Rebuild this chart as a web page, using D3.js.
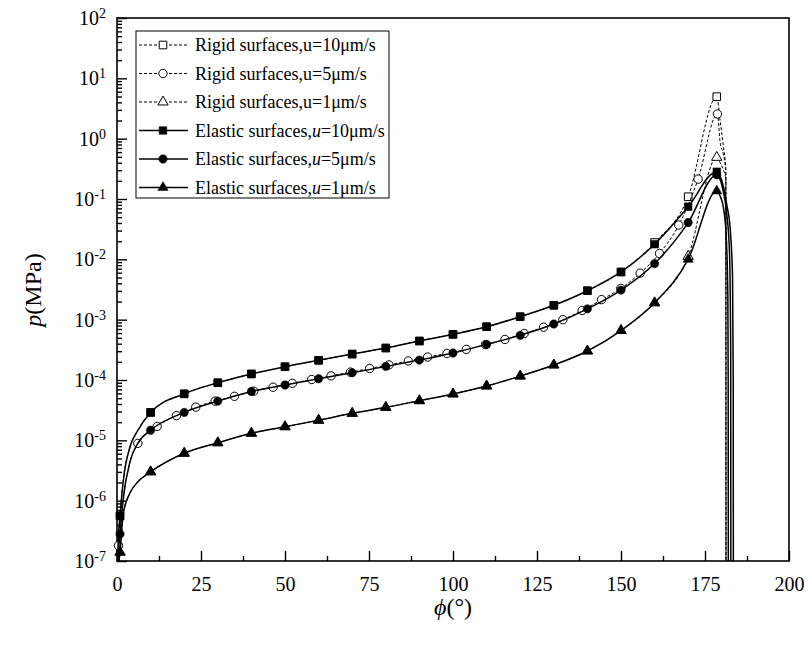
<!DOCTYPE html>
<meta charset="utf-8">
<html>
  <head>
    <title>p vs phi</title>
    <style>
      body { margin: 0; background: #fff; }
      svg { font-family: "Liberation Serif", "Times New Roman", serif; }
      .frame { fill: none; stroke: #000; stroke-width: 1.6px; }
      .axis path { display: none; }
      .axis line { stroke: #000; stroke-width: 1.4px; }
      .solid { fill: none; stroke: #000; stroke-width: 1.5px; }
      .dashed { fill: none; stroke: #000; stroke-width: 1px; stroke-dasharray: 3,2; }
      .legend text { font-size: 18px; }
    </style>
  </head>
  <body>
    <script src="https://cdn.jsdelivr.net/npm/d3@7"></script>
    <script>

      // marker positions, elastic curves (and rigid u=10, u=1)
      var phiElastic = [0.9, 10, 20, 30, 40, 50, 60, 70, 80, 90, 100, 110, 120, 130, 140, 150, 160, 170, 178.5];
      var pElastic10 = [5.6e-7, 2.9e-5, 5.9e-5, 9.0e-5, 1.26e-4, 1.66e-4, 2.12e-4, 2.69e-4, 3.39e-4, 4.43e-4, 5.71e-4, 7.64e-4, 1.12e-3, 1.73e-3, 3.02e-3, 6.17e-3, 1.78e-2, 7.45e-2, 0.283];
      var pElastic5  = [2.8e-7, 1.47e-5, 2.9e-5, 4.47e-5, 6.46e-5, 8.26e-5, 1.05e-4, 1.32e-4, 1.68e-4, 2.14e-4, 2.8e-4, 3.89e-4, 5.5e-4, 8.47e-4, 1.51e-3, 3.09e-3, 8.5e-3, 4.07e-2, 0.251];
      var pElastic1  = [1.4e-7, 3.0e-6, 6.1e-6, 9.1e-6, 1.31e-5, 1.68e-5, 2.15e-5, 2.8e-5, 3.52e-5, 4.54e-5, 5.86e-5, 7.94e-5, 1.16e-4, 1.77e-4, 3.02e-4, 6.6e-4, 1.9e-3, 1.0e-2, 0.136];
      var pRigid10   = [5.6e-7, 2.9e-5, 5.9e-5, 9.0e-5, 1.26e-4, 1.66e-4, 2.12e-4, 2.69e-4, 3.39e-4, 4.43e-4, 5.71e-4, 7.64e-4, 1.12e-3, 1.73e-3, 3.02e-3, 6.17e-3, 1.9e-2, 0.109, 4.97];
      var pRigid1    = [1.4e-7, 3.0e-6, 6.1e-6, 9.1e-6, 1.31e-5, 1.68e-5, 2.15e-5, 2.8e-5, 3.52e-5, 4.54e-5, 5.86e-5, 7.94e-5, 1.16e-4, 1.77e-4, 3.02e-4, 6.6e-4, 1.9e-3, 1.12e-2, 0.49];

      // rigid u=5 has its own, denser marker spacing
      var phiRigid5 = [0.45, 6.2, 11.95, 17.7, 23.45, 29.2, 34.95, 40.7, 46.45, 52.2, 57.95, 63.7, 69.45, 75.2, 80.95, 86.7,
                       92.45, 98.2, 103.95, 109.7, 115.45, 121.2, 126.95, 132.7, 138.45, 144.2, 149.95, 155.7, 161.45, 167.2, 172.95, 178.7];
      var pRigid5   = [1.8e-7, 8.9e-6, 1.7e-5, 2.57e-5, 3.55e-5, 4.47e-5, 5.37e-5, 6.53e-5, 7.59e-5, 8.81e-5, 1.02e-4, 1.17e-4, 1.35e-4, 1.55e-4, 1.78e-4, 2.07e-4,
                       2.4e-4, 2.75e-4, 3.22e-4, 3.86e-4, 4.7e-4, 5.9e-4, 7.5e-4, 1.0e-3, 1.42e-3, 2.15e-3, 3.3e-3, 5.9e-3, 1.25e-2, 3.7e-2, 0.214, 2.57];

      // extra points read off the curves near phi=0 and past the peak (no markers there)
      var edgeElastic10 = [[0, 3e-8], [0.3, 1.6e-7], [1.9, 2.2e-6], [3.9, 7.9e-6], [6, 1.4e-5], [179.5, 0.24], [180.5, 0.158], [181.5, 0.079], [182.5, 0.032], [183.2, 5e-3], [183.4, 1e-4], [183.45, 1e-8]];
      var edgeElastic5  = [[0, 2e-8], [0.3, 1e-7], [1.9, 1.12e-6], [3.9, 4.47e-6], [6.2, 8.9e-6], [179.5, 0.21], [180.5, 0.13], [181.5, 0.056], [182.3, 0.0126], [182.65, 3e-4], [182.7, 1e-8]];
      var edgeElastic1  = [[0, 1e-8], [0.3, 6e-8], [1.9, 6.3e-7], [3.9, 1.35e-6], [6, 2e-6], [179.5, 0.112], [180.5, 0.071], [181.3, 0.025], [181.8, 2.5e-3], [181.9, 1e-4], [181.95, 1e-8]];
      var edgeRigid10   = [[0, 3e-8], [0.3, 1.6e-7], [1.9, 2.2e-6], [3.9, 7.9e-6], [6, 1.4e-5], [179.5, 2.0], [180.5, 0.71], [181.2, 0.3], [181.25, 1e-8]];
      var edgeRigid5    = [[0, 2e-8], [0.2, 8e-8], [1.9, 1.12e-6], [3.9, 4.47e-6], [179.5, 0.87], [180.5, 0.54], [181.2, 0.28], [181.25, 1e-8]];
      var edgeRigid1    = [[0, 1e-8], [0.3, 6e-8], [1.9, 6.3e-7], [3.9, 1.35e-6], [6, 2e-6], [179.5, 0.4], [180.5, 0.3], [181.2, 0.22], [181.25, 1e-8]];

      var xTicks = [0, 25, 50, 75, 100, 125, 150, 175, 200];
      var xMinor = [12.5, 37.5, 62.5, 87.5, 112.5, 137.5, 162.5, 187.5];
      var yTicks = [1e-7, 1e-6, 1e-5, 1e-4, 1e-3, 1e-2, 1e-1, 1e0, 1e1, 1e2];

      var series = [
        {name: "Rigid surfaces,", speed: "10", italic: false, phi: phiElastic, p: pRigid10, edge: edgeRigid10, sym: d3.symbolSquare, open: true},
        {name: "Rigid surfaces,", speed: "5", italic: false, phi: phiRigid5, p: pRigid5, edge: edgeRigid5, sym: d3.symbolCircle, open: true},
        {name: "Rigid surfaces,", speed: "1", italic: false, phi: phiElastic, p: pRigid1, edge: edgeRigid1, sym: d3.symbolTriangle, open: true},
        {name: "Elastic surfaces,", speed: "10", italic: true, phi: phiElastic, p: pElastic10, edge: edgeElastic10, sym: d3.symbolSquare, open: false},
        {name: "Elastic surfaces,", speed: "5", italic: true, phi: phiElastic, p: pElastic5, edge: edgeElastic5, sym: d3.symbolCircle, open: false},
        {name: "Elastic surfaces,", speed: "1", italic: true, phi: phiElastic, p: pElastic1, edge: edgeElastic1, sym: d3.symbolTriangle, open: false}
      ];

      var symSize = new Map([[d3.symbolSquare, 58], [d3.symbolCircle, 55], [d3.symbolTriangle, 46]]);

      var W = 810, H = 645;
      var mLeft = 117, mRight = 789, mTop = 18, mBottom = 561;
      var serif = "'Liberation Serif', 'Times New Roman', serif";

      var x = d3.scaleLinear().domain([0, 200]).range([mLeft, mRight]);
      var y = d3.scaleLog().domain([1e-7, 1e2]).range([mBottom, mTop]);

      var svg = d3.select("body").append("svg")
          .attr("width", W)
          .attr("height", H);

      svg.append("clipPath").attr("id", "plot")
        .append("rect")
          .attr("x", mLeft).attr("y", mTop)
          .attr("width", mRight - mLeft).attr("height", mBottom - mTop);

      // axes, ticks inward
      svg.append("g")
          .attr("class", "axis")
          .attr("transform", "translate(0," + mBottom + ")")
          .call(d3.axisBottom(x).tickValues(xTicks).tickSize(-10).tickPadding(16));

      svg.append("g")
          .attr("class", "axis")
          .attr("transform", "translate(0," + mBottom + ")")
          .call(d3.axisBottom(x).tickValues(xMinor).tickSize(-5).tickFormat(""));

      var yAxis = svg.append("g")
          .attr("class", "axis")
          .attr("transform", "translate(" + mLeft + ",0)")
          .call(d3.axisLeft(y).tickValues(yTicks).tickSize(-10).tickPadding(11));

      yAxis.selectAll(".tick text").each(function(d) {
        var t = d3.select(this).text(null);
        t.append("tspan").text("10");
        t.append("tspan")
            .attr("dy", "-0.5em")
            .style("font-size", "14px")
            .text(Math.round(Math.log10(d)));
      });

      var yMinor = y.ticks().filter(function(v) { return yTicks.indexOf(v) < 0; });
      svg.append("g")
          .attr("class", "axis")
          .attr("transform", "translate(" + mLeft + ",0)")
          .call(d3.axisLeft(y).tickValues(yMinor).tickSize(-5).tickFormat(""));

      svg.selectAll(".axis")
          .attr("font-family", null)
          .attr("font-size", null);
      svg.selectAll(".axis text")
          .style("font-family", serif)
          .style("font-size", "20px")
          .attr("fill", "#000");

      svg.append("rect")
          .attr("class", "frame")
          .attr("x", mLeft).attr("y", mTop)
          .attr("width", mRight - mLeft).attr("height", mBottom - mTop);

      // curves
      var line = d3.line()
          .x(function(d) { return x(d[0]); })
          .y(function(d) { return y(d[1]); })
          .curve(d3.curveMonotoneX);

      var plot = svg.append("g");

      series.forEach(function(s) {
        var marks = s.phi.map(function(v, i) { return [v, s.p[i]]; });
        var pts = marks.concat(s.edge).sort(function(a, b) { return a[0] - b[0]; });

        plot.append("path")
            .datum(pts)
            .attr("class", s.open ? "dashed" : "solid")
            .attr("clip-path", "url(#plot)")
            .attr("d", line);

        plot.selectAll(null)
            .data(marks)
          .enter().append("path")
            .attr("transform", function(d) { return "translate(" + x(d[0]) + "," + y(d[1]) + ")"; })
            .attr("d", d3.symbol(s.sym, symSize.get(s.sym)))
            .attr("fill", s.open ? "#fff" : "#000")
            .attr("stroke", "#000")
            .attr("stroke-width", s.open ? 1 : 0.5);
      });

      // legend
      var legend = svg.append("g").attr("class", "legend");
      legend.append("rect")
          .attr("x", 136).attr("y", 31)
          .attr("width", 253).attr("height", 167)
          .attr("fill", "#fff")
          .attr("stroke", "#000")
          .attr("stroke-width", 1);

      series.forEach(function(s, i) {
        var ly = 45 + i * 28.5;
        legend.append("line")
            .attr("x1", 139).attr("x2", 188)
            .attr("y1", ly).attr("y2", ly)
            .attr("class", s.open ? "dashed" : "solid");
        legend.append("path")
            .attr("transform", "translate(163," + ly + ")")
            .attr("d", d3.symbol(s.sym, symSize.get(s.sym)))
            .attr("fill", s.open ? "#fff" : "#000")
            .attr("stroke", "#000")
            .attr("stroke-width", s.open ? 1 : 0.5);
        var t = legend.append("text")
            .attr("x", 195).attr("y", ly)
            .attr("dy", "0.35em");
        t.append("tspan").text(s.name);
        t.append("tspan").style("font-style", s.italic ? "italic" : "normal").text("u");
        t.append("tspan").text("=" + s.speed + "μm/s");
      });

      // axis titles
      var yt = svg.append("text")
          .attr("transform", "translate(41,290) rotate(-90)")
          .attr("text-anchor", "middle")
          .style("font-size", "24px");
      yt.append("tspan").style("font-style", "italic").text("p");
      yt.append("tspan").text("(MPa)");

      var xt = svg.append("text")
          .attr("x", 453).attr("y", 615)
          .attr("text-anchor", "middle")
          .style("font-size", "24px");
      xt.append("tspan").style("font-style", "italic").text("ϕ");
      xt.append("tspan").text("(°)");

    </script>
  </body>
</html>
